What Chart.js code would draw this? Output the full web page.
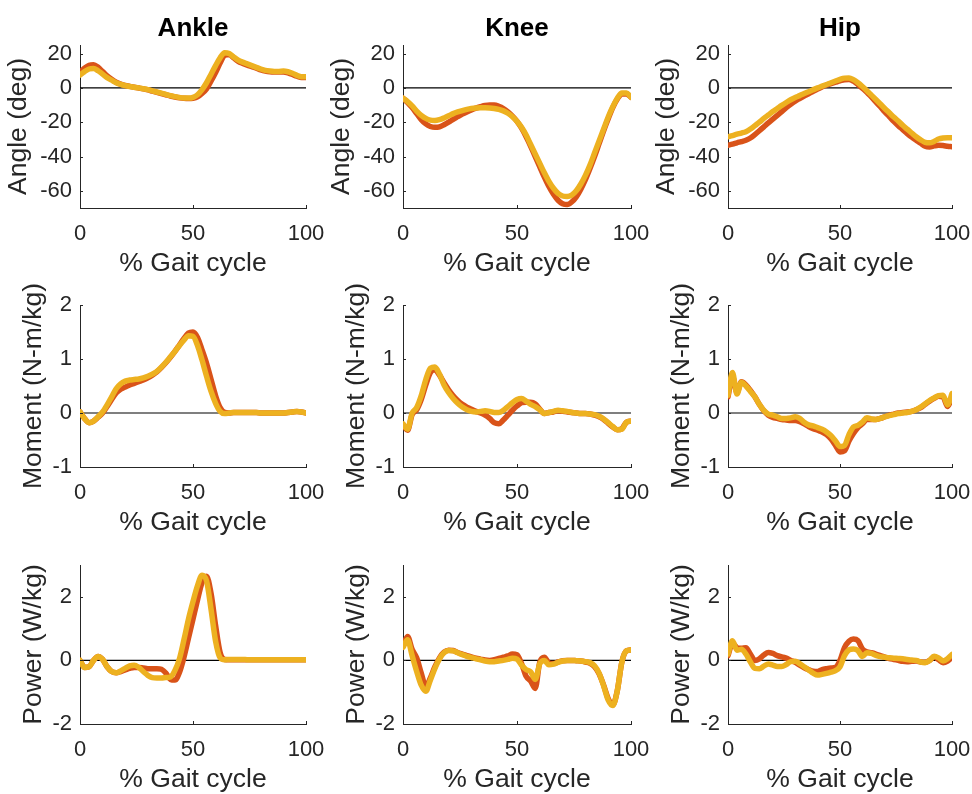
<!DOCTYPE html>
<html>
<head>
<meta charset="utf-8">
<title>Gait kinematics and kinetics</title>
<script src="https://cdn.jsdelivr.net/npm/chart.js@4.4.1/dist/chart.umd.min.js"></script>
<style>
  html, body { margin: 0; padding: 0; background: #fff; overflow: hidden; }
  body { width: 972px; height: 794px; position: relative; }
  canvas { position: absolute; }
</style>
</head>
<body>
<canvas id="p0"></canvas><canvas id="p1"></canvas><canvas id="p2"></canvas>
<canvas id="p3"></canvas><canvas id="p4"></canvas><canvas id="p5"></canvas>
<canvas id="p6"></canvas><canvas id="p7"></canvas><canvas id="p8"></canvas>
<script>
// % gait cycle sample points
const gaitPct = [0,2,4,6,8,10,12,14,16,18,20,22,24,26,28,30,32,34,36,38,40,42,44,46,48,
  50,52,54,56,58,60,62,64,66,68,70,72,74,76,78,80,82,84,86,88,90,92,94,96,98,100];

const pctRange = [0, 100];
const pctTicks = [0, 50, 100];
const angleTicks = [-60, -40, -20, 0, 20];
const momentTicks = [-1, 0, 1, 2];
const powerTicks = [-2, 0, 2];

// series A = orange-red, series B = yellow
const ankleAngleA = [9,11.5,13.2,13.5,12,9.5,7,5,3.3,2.2,1.4,0.9,0.4,-0.1,-0.6,-1.2,-1.9,-2.6,-3.3,-4,
  -4.7,-5.3,-5.8,-6.1,-6.2,-6,-5.2,-3.2,-0.5,4,9,14.5,19,19.5,17.5,15.5,14.3,13.3,12.4,11.5,
  10.5,9.8,9.4,9.3,9.3,9.3,8.8,7.8,6.8,6,6];
const ankleAngleB = [7.5,9.5,11,11.3,10,8,6,4.5,3,2,1.3,0.8,0.4,0,-0.5,-1,-1.7,-2.4,-3.1,-3.8,
  -4.5,-5.1,-5.6,-5.9,-5.9,-5.5,-4,-1,3,8,13,17.5,20.5,20,18,16.2,15,14,13,12,
  11,10.2,9.8,9.6,9.6,9.8,9.4,8.5,7.3,6.5,6.5];

const kneeAngleA = [-6,-8.5,-11.5,-15,-18.5,-21,-22.5,-23,-22.7,-21.5,-20,-18.3,-16.8,-15.3,-14,-12.8,-11.8,-11,-10.3,-10,
  -10,-10.7,-12,-14,-16.5,-19.5,-23.5,-28.5,-34,-40,-46,-52,-57.5,-62,-65.5,-67.5,-68,-66.5,-63.5,-59,
  -53.5,-47,-40,-32.5,-25,-18,-11.5,-6.5,-3.5,-3.5,-5.5];
const kneeAngleB = [-6,-8,-10.5,-13.5,-16,-17.8,-18.8,-19,-18.5,-17.5,-16.3,-15,-14,-13.2,-12.5,-12,-11.7,-11.6,-11.6,-11.7,
  -12,-12.5,-13.4,-14.8,-16.8,-19.5,-23,-27.5,-33,-38.5,-44,-49.5,-54.5,-58.5,-61.5,-63,-63.3,-62.5,-60,-56,
  -51,-45,-38,-31,-24,-17,-11,-6,-3,-3,-5.5];

const hipAngleA = [-33.4,-32.8,-32,-31.3,-30.5,-29.2,-27.2,-25,-22.7,-20.4,-18.2,-16,-13.8,-11.5,-9.5,-7.7,-6.2,-4.8,-3.5,-2,
  -0.6,0.6,1.7,2.5,3.3,4.1,4.8,4.9,3.9,2,-0.2,-2.5,-5.3,-8.2,-11,-14,-16.7,-19.5,-22,-24.3,
  -26.6,-28.7,-30.5,-32.3,-34,-34.4,-33.8,-33.4,-33.6,-34,-34.3];
const hipAngleB = [-28.5,-27.8,-27,-26.3,-25.5,-24,-22,-20,-17.8,-15.8,-13.8,-12,-10.2,-8.5,-6.9,-5.6,-4.5,-3.3,-2.2,-1.1,
  0,1,2,3,4,5,5.7,5.8,4.8,3,0.8,-1.6,-4.2,-6.8,-9.4,-12,-14.5,-17,-19.3,-21.8,
  -24,-26.3,-28.5,-30.3,-31.7,-32,-31.2,-29.8,-29.2,-29,-29];

const ankleMomentA = [0.02,-0.1,-0.18,-0.15,-0.08,0,0.12,0.25,0.37,0.44,0.48,0.52,0.55,0.58,0.61,0.65,0.7,0.76,0.84,0.93,
  1.03,1.14,1.26,1.38,1.48,1.5,1.4,1.17,0.92,0.62,0.32,0.1,0.01,0,0.01,0.01,0.01,0.01,0.01,0.01,
  0,0,0,0,0,0,0.01,0.02,0.03,0.02,0];
const ankleMomentB = [0.02,-0.1,-0.18,-0.15,-0.07,0.02,0.15,0.3,0.45,0.54,0.59,0.61,0.62,0.63,0.65,0.68,0.72,0.77,0.85,0.94,
  1.04,1.14,1.25,1.35,1.43,1.42,1.25,0.98,0.68,0.4,0.18,0.03,-0.01,0,0.01,0.01,0.01,0.01,0.01,0.01,
  0,0,0,0,0,0,0.01,0.02,0.03,0.02,0];

const kneeMomentA = [-0.22,-0.32,-0.03,0.06,0.25,0.52,0.75,0.8,0.7,0.56,0.43,0.32,0.23,0.16,0.11,0.07,0.03,0,-0.04,-0.1,
  -0.18,-0.2,-0.13,-0.04,0.05,0.13,0.19,0.2,0.2,0.17,0.07,-0.01,0.01,0.02,0.04,0.03,0.02,0.01,0,-0.01,
  -0.01,-0.02,-0.04,-0.07,-0.12,-0.19,-0.26,-0.31,-0.29,-0.17,-0.15];
const kneeMomentB = [-0.2,-0.3,0,0.1,0.32,0.62,0.83,0.85,0.72,0.52,0.38,0.27,0.18,0.11,0.06,0.03,0.02,0.03,0.04,0.03,
  0.01,0.01,0.05,0.12,0.19,0.25,0.27,0.22,0.16,0.12,0.06,-0.01,0.01,0.03,0.05,0.04,0.03,0.01,0,-0.01,
  -0.01,-0.02,-0.03,-0.06,-0.11,-0.18,-0.25,-0.31,-0.3,-0.17,-0.15];

const hipMomentA = [0.3,0.68,0.38,0.58,0.52,0.42,0.3,0.16,0.04,-0.04,-0.08,-0.1,-0.12,-0.13,-0.14,-0.14,-0.16,-0.2,-0.25,-0.29,
  -0.32,-0.35,-0.4,-0.48,-0.6,-0.72,-0.7,-0.52,-0.38,-0.27,-0.2,-0.12,-0.12,-0.12,-0.1,-0.07,-0.04,-0.02,0,0.01,
  0.02,0.03,0.06,0.1,0.16,0.22,0.27,0.31,0.3,0.12,0.28];
const hipMomentB = [0.33,0.75,0.35,0.57,0.5,0.4,0.3,0.16,0.05,-0.02,-0.04,-0.07,-0.1,-0.1,-0.09,-0.07,-0.1,-0.17,-0.22,-0.24,
  -0.27,-0.3,-0.35,-0.42,-0.52,-0.62,-0.6,-0.4,-0.26,-0.23,-0.17,-0.09,-0.11,-0.12,-0.1,-0.07,-0.05,-0.03,-0.01,0,
  0.01,0.03,0.06,0.11,0.17,0.23,0.28,0.32,0.33,0.15,0.36];

const anklePowerA = [0,-0.22,-0.2,0,0.12,0.03,-0.2,-0.35,-0.39,-0.35,-0.3,-0.25,-0.22,-0.22,-0.24,-0.26,-0.26,-0.26,-0.28,-0.4,
  -0.6,-0.62,-0.38,0.1,0.7,1.3,1.9,2.45,2.65,2.1,1.1,0.25,0.03,0.02,0.02,0.02,0.02,0.02,0.02,0.02,
  0.02,0.02,0.02,0.02,0.02,0.02,0.02,0.02,0.02,0.02,0.02];
const anklePowerB = [0,-0.22,-0.2,0,0.12,0.03,-0.2,-0.35,-0.39,-0.33,-0.25,-0.17,-0.15,-0.22,-0.35,-0.47,-0.54,-0.55,-0.55,-0.54,
  -0.52,-0.32,0.05,0.65,1.3,1.85,2.35,2.68,2.5,1.6,0.6,0.08,0.02,0.03,0.03,0.03,0.03,0.02,0.02,0.02,
  0.02,0.02,0.02,0.02,0.02,0.02,0.02,0.02,0.02,0.02,0.02];

const kneePowerA = [0.45,0.75,0.35,0.08,-0.4,-0.82,-0.55,-0.2,0.08,0.26,0.32,0.31,0.25,0.2,0.15,0.11,0.07,0.04,0.01,0,
  0.02,0.06,0.1,0.14,0.2,0.18,-0.1,-0.5,-0.65,-0.88,-0.05,0.1,-0.08,-0.1,-0.05,-0.01,0,0,-0.01,-0.02,
  -0.05,-0.09,-0.2,-0.42,-0.78,-1.2,-1.4,-0.95,-0.05,0.3,0.33];
const kneePowerB = [0.41,0.65,0.15,-0.35,-0.78,-0.97,-0.62,-0.25,0.05,0.24,0.31,0.3,0.24,0.18,0.13,0.09,0.05,0.02,-0.02,-0.04,
  -0.04,-0.02,0,0.03,0.07,0.04,-0.15,-0.29,-0.36,-0.6,-0.1,0,-0.14,-0.12,-0.06,-0.02,0,0,-0.01,-0.02,
  -0.04,-0.07,-0.17,-0.4,-0.8,-1.25,-1.42,-0.95,-0.05,0.3,0.33];

const hipPowerA = [0.15,0.55,0.4,0.38,0.4,0.2,0,0.05,0.17,0.25,0.22,0.15,0.11,0.07,0,-0.06,-0.15,-0.23,-0.29,-0.34,
  -0.35,-0.29,-0.26,-0.24,-0.22,0,0.4,0.6,0.67,0.62,0.36,0.27,0.24,0.2,0.15,0.1,0.06,0.03,0,-0.03,
  -0.04,-0.03,-0.02,-0.05,-0.06,0,0.11,0.02,-0.07,-0.02,0.1];
const hipPowerB = [0.2,0.62,0.32,0.35,0.2,-0.05,-0.25,-0.26,-0.18,-0.11,-0.15,-0.19,-0.19,-0.13,-0.04,-0.03,-0.1,-0.2,-0.3,-0.4,
  -0.46,-0.44,-0.41,-0.37,-0.32,-0.2,0.15,0.33,0.36,0.31,0.12,0.24,0.22,0.16,0.12,0.1,0.08,0.07,0.06,0.05,
  0.03,0.01,0,-0.05,-0.07,0,0.13,0.08,-0.02,0.05,0.19];

const colorA = '#D95319';
const colorB = '#EDB120';
const axisColor = '#262626';
const fontFamily = '"Liberation Sans", Arial, Helvetica, sans-serif';

// plot area edges in page pixels
const colLeft = [80, 403, 728];
const colRight = [306, 631, 952];
const rowTop = [45, 305, 565];
const rowBottom = [208, 467, 724];

const rows = [
  { yLabel: 'Angle (deg)', min: -70, max: 25, ticks: angleTicks, titlePad: 3 },
  { yLabel: 'Moment (N-m/kg)', min: -1, max: 2, ticks: momentTicks, titlePad: 18 },
  { yLabel: 'Power (W/kg)', min: -2, max: 3, ticks: powerTicks, titlePad: 18 }
];
const colTitles = ['Ankle', 'Knee', 'Hip'];
const seriesA = [
  [ankleAngleA, kneeAngleA, hipAngleA],
  [ankleMomentA, kneeMomentA, hipMomentA],
  [anklePowerA, kneePowerA, hipPowerA]
];
const seriesB = [
  [ankleAngleB, kneeAngleB, hipAngleB],
  [ankleMomentB, kneeMomentB, hipMomentB],
  [anklePowerB, kneePowerB, hipPowerB]
];

const toPoints = (vals) => gaitPct.map((p, i) => ({ x: p, y: vals[i] }));

// short tick marks pointing into the plot, like the original
const innerTicks = {
  id: 'innerTicks',
  afterDraw(chart) {
    const { ctx, chartArea: a, scales: { x, y } } = chart;
    ctx.save();
    ctx.strokeStyle = axisColor;
    ctx.lineWidth = 1;
    ctx.beginPath();
    x.ticks.forEach(t => {
      const px = Math.round(x.getPixelForValue(t.value)) + 0.5;
      ctx.moveTo(px, a.bottom);
      ctx.lineTo(px, a.bottom - 3);
    });
    y.ticks.forEach(t => {
      const py = Math.round(y.getPixelForValue(t.value)) + 0.5;
      ctx.moveTo(a.left, py);
      ctx.lineTo(a.left + 3, py);
    });
    ctx.stroke();
    ctx.restore();
  }
};

const yAxisW = 80;
const rightPad = 36; // room for the half-width of "100" plus tick padding
const bottomH = 72;

for (let r = 0; r < 3; r++) {
  for (let c = 0; c < 3; c++) {
    const row = rows[r];
    const topPad = r === 0 ? 45 : 25;
    const canvas = document.getElementById('p' + (r * 3 + c));
    const w = colRight[c] - colLeft[c] + yAxisW + rightPad;
    const h = rowBottom[r] - rowTop[r] + topPad + bottomH;
    canvas.width = w;
    canvas.height = h;
    canvas.style.left = (colLeft[c] - yAxisW) + 'px';
    canvas.style.top = (rowTop[r] - topPad) + 'px';

    new Chart(canvas, {
      type: 'line',
      data: {
        datasets: [
          {
            data: toPoints(seriesB[r][c]),
            borderColor: colorB, borderWidth: 5.5, order: 0
          },
          {
            data: toPoints(seriesA[r][c]),
            borderColor: colorA, borderWidth: 5.5, order: 1
          },
          {
            data: pctRange.map(p => ({ x: p, y: 0 })),
            borderColor: '#000', borderWidth: 1.2, order: 2, cubicInterpolationMode: 'default', tension: 0
          }
        ]
      },
      options: {
        responsive: false,
        animation: false,
        events: [],
        elements: {
          point: { radius: 0 },
          line: { borderCapStyle: 'round', borderJoinStyle: 'round', cubicInterpolationMode: 'monotone' }
        },
        layout: { padding: { left: 0, right: rightPad, top: r === 0 ? 0 : topPad, bottom: 0 } },
        plugins: {
          legend: { display: false },
          tooltip: { enabled: false },
          title: {
            display: r === 0,
            text: colTitles[c],
            fullSize: false,
            color: '#000',
            font: { family: fontFamily, size: 26, weight: 'bold', lineHeight: 1.2 },
            padding: { top: 13, bottom: 0.8 }
          }
        },
        scales: {
          x: {
            type: 'linear',
            min: pctRange[0],
            max: pctRange[1],
            afterBuildTicks: (s) => { s.ticks = pctTicks.map(v => ({ value: v })); },
            afterFit: (s) => { s.height = bottomH; },
            grid: { drawOnChartArea: false, drawTicks: false },
            border: { display: true, color: axisColor, width: 1 },
            ticks: { color: axisColor, padding: 13, maxRotation: 0, font: { family: fontFamily, size: 22 } },
            title: {
              display: true,
              text: '% Gait cycle',
              color: axisColor,
              font: { family: fontFamily, size: 26.5, lineHeight: 1.2 },
              padding: { top: 0, bottom: 0 }
            }
          },
          y: {
            min: row.min,
            max: row.max,
            afterBuildTicks: (s) => { s.ticks = row.ticks.map(v => ({ value: v })); },
            afterFit: (s) => { s.width = yAxisW; },
            grid: { drawOnChartArea: false, drawTicks: false },
            border: { display: true, color: axisColor, width: 1 },
            ticks: { color: axisColor, padding: 8, font: { family: fontFamily, size: 22 } },
            title: {
              display: true,
              text: row.yLabel,
              color: axisColor,
              font: { family: fontFamily, size: 26.5, lineHeight: 1.2 },
              padding: { top: row.titlePad, bottom: 0 }
            }
          }
        }
      },
      plugins: [innerTicks]
    });
  }
}
</script>
</body>
</html>
